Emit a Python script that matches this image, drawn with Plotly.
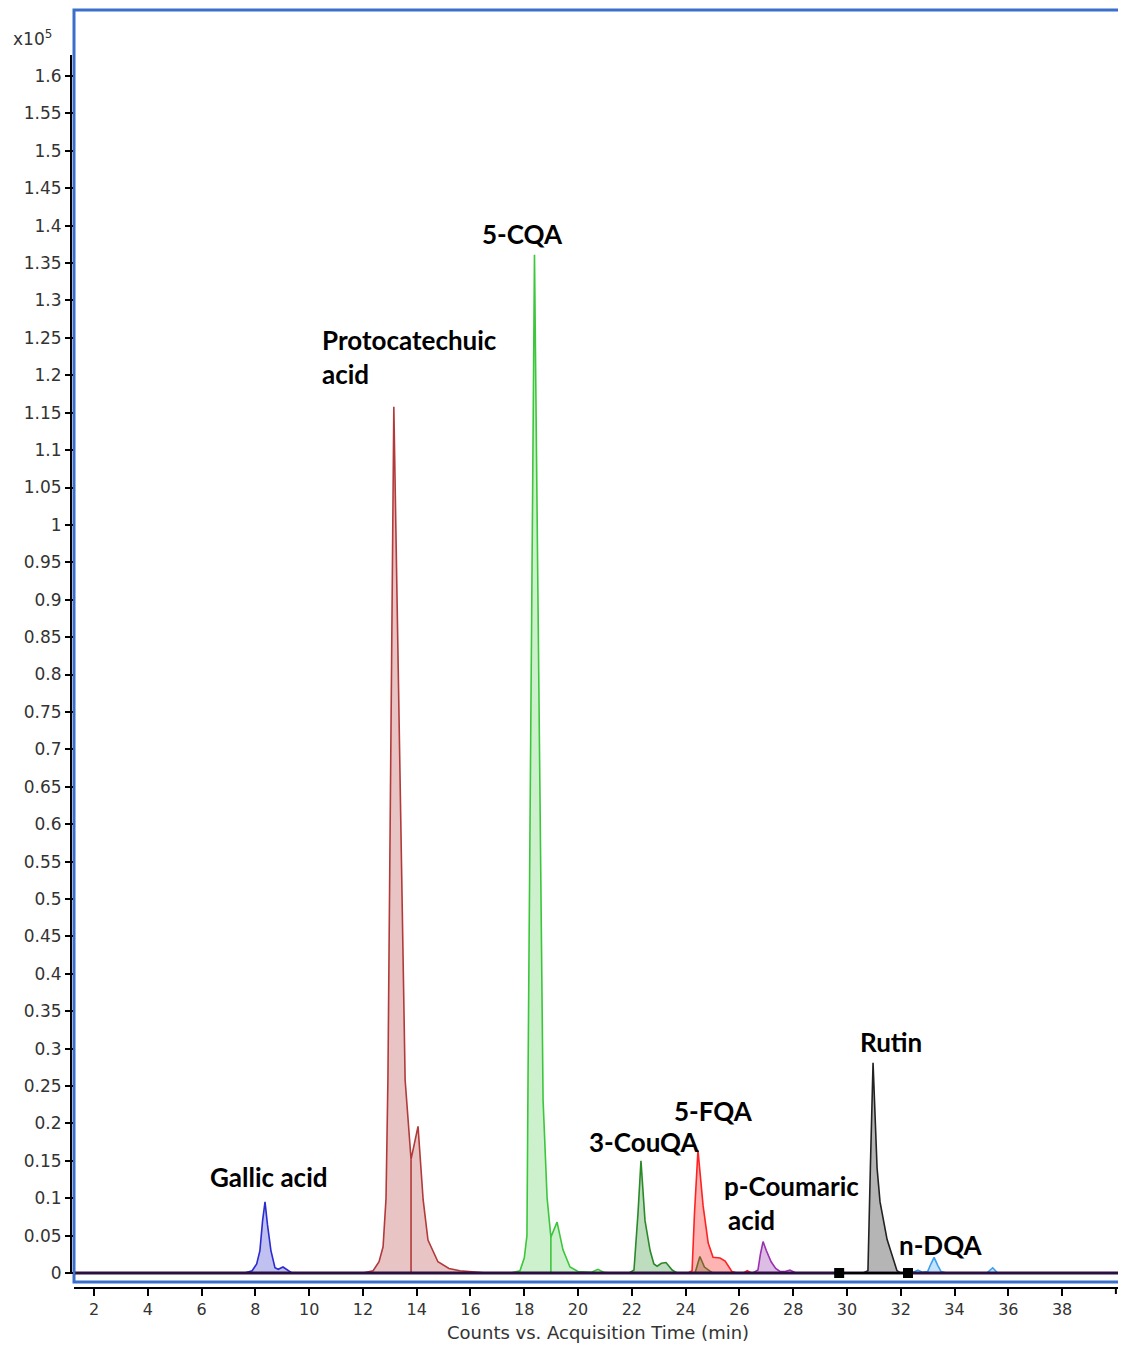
import plotly.graph_objects as go

# ---------------- data (time in min, counts in units of 1e5) ----------------
gallic_t = [7.60, 7.88, 8.05, 8.17, 8.27, 8.36, 8.45, 8.58, 8.73, 8.85, 9.03, 9.20, 9.36]
gallic_i = [0.0, 0.003, 0.012, 0.030, 0.070, 0.095, 0.065, 0.030, 0.007, 0.005, 0.008, 0.004, 0.0]

proto_t = [12.00, 12.38, 12.60, 12.75, 12.86, 12.93, 13.15, 13.57, 13.79, 14.05, 14.24, 14.42, 14.79, 15.20, 15.61, 16.40, 16.60]
proto_i = [0.0, 0.003, 0.015, 0.035, 0.100, 0.258, 1.158, 0.258, 0.152, 0.196, 0.098, 0.044, 0.015, 0.006, 0.003, 0.001, 0.0]
proto_split_t = [13.79, 13.79]
proto_split_i = [0.0, 0.152]

cqa_t = [17.50, 17.84, 18.00, 18.10, 18.14, 18.38, 18.70, 18.85, 18.99, 19.22, 19.44, 19.70, 20.00, 20.50, 20.74, 20.95, 21.20]
cqa_i = [0.0, 0.003, 0.020, 0.050, 0.258, 1.361, 0.231, 0.100, 0.048, 0.068, 0.031, 0.008, 0.002, 0.001, 0.005, 0.001, 0.0]
cqa_split_t = [18.99, 18.99]
cqa_split_i = [0.0, 0.048]

couqa_t = [21.90, 22.08, 22.23, 22.34, 22.49, 22.68, 22.82, 22.94, 23.10, 23.27, 23.50, 23.68, 24.35, 24.53, 24.70, 24.90, 25.00]
couqa_i = [0.0, 0.004, 0.080, 0.150, 0.070, 0.030, 0.012, 0.009, 0.013, 0.014, 0.004, 0.0, 0.0, 0.022, 0.008, 0.002, 0.0]

fqa_t = [24.10, 24.24, 24.33, 24.46, 24.65, 24.84, 25.02, 25.28, 25.47, 25.72, 25.90, 26.15, 26.29, 26.45]
fqa_i = [0.0, 0.003, 0.080, 0.164, 0.090, 0.040, 0.021, 0.020, 0.016, 0.002, 0.0, 0.0, 0.003, 0.0]

pcoum_t = [26.50, 26.69, 26.78, 26.88, 27.00, 27.18, 27.35, 27.51, 27.70, 27.88, 28.10]
pcoum_i = [0.0, 0.004, 0.025, 0.042, 0.030, 0.015, 0.006, 0.002, 0.002, 0.004, 0.0]

rutin_t = [30.60, 30.78, 30.87, 30.97, 31.12, 31.23, 31.49, 31.68, 31.86, 32.00]
rutin_i = [0.0, 0.003, 0.140, 0.281, 0.140, 0.095, 0.045, 0.022, 0.003, 0.0]

dqa_t = [32.40, 32.64, 32.80, 33.00, 33.12, 33.24, 33.38, 33.50, 33.70, 35.20, 35.42, 35.60]
dqa_i = [0.0, 0.004, 0.001, 0.002, 0.012, 0.021, 0.010, 0.002, 0.0, 0.0, 0.007, 0.0]

baseline_t = [1.30, 40.10]
baseline_i = [0.0, 0.0]

rutin_int_t = [29.71, 32.27]
rutin_int_i = [0.0, 0.0]

y_tick_labels = ["0", "0.05", "0.1", "0.15", "0.2", "0.25", "0.3", "0.35", "0.4", "0.45",
                 "0.5", "0.55", "0.6", "0.65", "0.7", "0.75", "0.8", "0.85", "0.9", "0.95",
                 "1", "1.05", "1.1", "1.15", "1.2", "1.25", "1.3", "1.35", "1.4", "1.45",
                 "1.5", "1.55", "1.6"]
x_tick_labels = ["2", "4", "6", "8", "10", "12", "14", "16", "18", "20", "22", "24", "26",
                 "28", "30", "32", "34", "36", "38"]
x_end_tick = 40

# ---------------- layout geometry (screen pixels; page has an 8px body margin) ----------------
OX, OY = 8, 8
W, H = 1126 - OX, 1348 - OY
SX0, SX1, SY0, SY1 = 74, 1121, 10, 1287
L, R, T, B = SX0 - OX, (W + OX) - SX1, SY0 - OY, (H + OY) - SY1
PW, PH = SX1 - SX0, SY1 - SY0


def px(xpix):
    return (xpix - SX0) / PW


def py(ypix):
    return (SY1 - ypix) / PH


fig = go.Figure()

peaks = [
    (gallic_t, gallic_i, "#2b2bd0", "rgba(60,60,210,0.32)"),
    (proto_t, proto_i, "#b23a3a", "rgba(180,60,60,0.30)"),
    (cqa_t, cqa_i, "#3cc63c", "rgba(60,200,60,0.26)"),
    (couqa_t, couqa_i, "#2a8a2a", "rgba(40,140,40,0.30)"),
    (fqa_t, fqa_i, "#ff2222", "rgba(255,40,40,0.35)"),
    (pcoum_t, pcoum_i, "#9a30b0", "rgba(150,50,170,0.32)"),
    (rutin_t, rutin_i, "#222222", "rgba(120,120,120,0.55)"),
    (dqa_t, dqa_i, "#3aa0f0", "rgba(60,160,240,0.30)"),
]
for t, i, lc, fc in peaks:
    fig.add_trace(go.Scatter(x=t, y=i, mode="lines", fill="tozeroy", fillcolor=fc,
                             line=dict(color=lc, width=1.6), hoverinfo="skip"))

fig.add_trace(go.Scatter(x=proto_split_t, y=proto_split_i, mode="lines",
                         line=dict(color="#b23a3a", width=1.6), hoverinfo="skip"))
fig.add_trace(go.Scatter(x=cqa_split_t, y=cqa_split_i, mode="lines",
                         line=dict(color="#3cc63c", width=1.6), hoverinfo="skip"))

fig.add_trace(go.Scatter(x=baseline_t, y=baseline_i, mode="lines",
                         line=dict(color="#2a1040", width=3), hoverinfo="skip"))
fig.add_trace(go.Scatter(x=rutin_int_t, y=rutin_int_i, mode="lines+markers",
                         line=dict(color="#000000", width=2),
                         marker=dict(symbol="square", size=10, color="#000000"),
                         hoverinfo="skip", cliponaxis=False))

ann_font = dict(family="Lato", size=26, color="#000000")
labels = [
    ("5-CQA", 480, 234),
    ("Protocatechuic", 320, 340),
    ("acid", 320, 374),
    ("Gallic acid", 208, 1177),
    ("3-CouQA", 587, 1142),
    ("5-FQA", 672, 1111),
    ("p-Coumaric", 722, 1186),
    ("acid", 726, 1220),
    ("Rutin", 858, 1042),
    ("n-DQA", 897, 1245),
]
annotations = []
for txt, xl, yc in labels:
    annotations.append(dict(text="<b>" + txt + "</b>", x=px(xl), y=py(yc), xref="paper", yref="paper",
                            xanchor="left", yanchor="middle", showarrow=False, font=ann_font))

annotations.append(dict(text="x10<sup>5</sup>", x=px(11), y=py(38), xref="paper", yref="paper",
                        xanchor="left", yanchor="middle", showarrow=False,
                        font=dict(family="DejaVu Sans", size=17, color="#333333")))
annotations.append(dict(text="Counts vs. Acquisition Time (min)", x=px(598), y=py(1332),
                        xref="paper", yref="paper", xanchor="center", yanchor="middle",
                        showarrow=False, font=dict(family="DejaVu Sans", size=18, color="#333333")))

shapes = [
    dict(type="rect", xref="paper", yref="paper", x0=0, x1=1, y0=py(1282), y1=1,
         line=dict(color="#3a70cc", width=3), fillcolor="rgba(0,0,0,0)", layer="below"),
    dict(type="line", xref="paper", yref="y", x0=px(71), x1=px(71), y0=0, y1=1.628,
         line=dict(color="#000000", width=2)),
    dict(type="line", xref="x", yref="paper", x0=x_end_tick, x1=x_end_tick, y0=0, y1=-7 / PH,
         line=dict(color="#000000", width=2)),
]

fig.update_layout(
    width=W, height=H,
    margin=dict(l=L, r=R, t=T, b=B),
    paper_bgcolor="white", plot_bgcolor="white",
    showlegend=False,
    annotations=annotations,
    shapes=shapes,
    xaxis=dict(range=[1.257, 40.19], tickvals=[int(s) for s in x_tick_labels], ticktext=x_tick_labels,
               showgrid=False, zeroline=False, showline=True, linecolor="#000000", linewidth=2,
               ticks="outside", ticklen=7, tickwidth=2, tickcolor="#000000",
               tickfont=dict(family="DejaVu Sans", size=16, color="#333333")),
    yaxis=dict(range=[-0.0187, 1.6883], tickvals=[float(s) for s in y_tick_labels],
               ticktext=y_tick_labels, showgrid=False, zeroline=False, showline=False,
               ticks="outside", ticklen=8, tickwidth=2, tickcolor="#000000",
               tickfont=dict(family="DejaVu Sans", size=17, color="#333333")),
)

fig.write_html("out.html")
